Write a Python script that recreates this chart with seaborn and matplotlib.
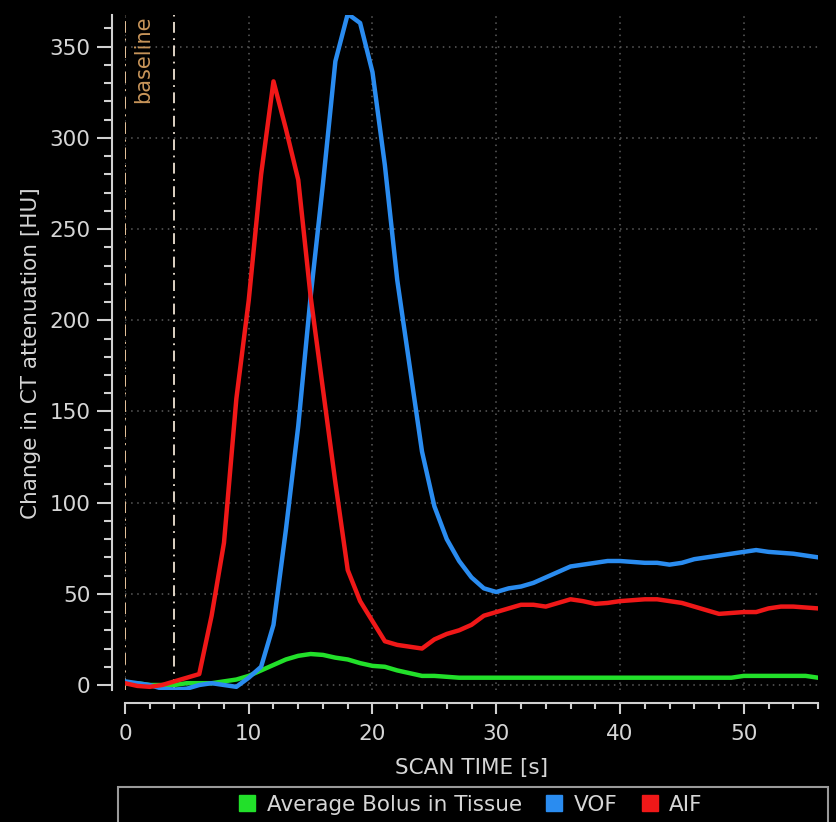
import numpy as np
import pandas as pd
import matplotlib
matplotlib.use("Agg")
import matplotlib.pyplot as plt
import seaborn as sns
from matplotlib.ticker import MultipleLocator
from matplotlib.patches import Rectangle
from matplotlib.lines import Line2D

# ---------------- data ----------------
time_s = list(range(0, 57))

aif = [1, -0.5, -1, 0, 2, 4, 6, 38, 78, 157,
       211, 280, 331, 305, 277, 213, 162, 111, 63, 46,
       35, 24, 22, 21, 20, 25, 28, 30, 33, 38,
       40, 42, 44, 44, 43, 45, 47, 46, 44.5, 45,
       46, 46.5, 47, 47, 46, 45, 43, 41, 39, 39.5,
       40, 40, 42, 43, 43, 42.5, 42]

vof = [2, 1, 0, -2, -2.5, -2, 0, 1, 0, -1,
       4, 10, 33, 85, 142, 213, 275, 342, 368, 363,
       336, 285, 222, 175, 128, 98, 80, 68, 59, 53,
       51, 53, 54, 56, 59, 62, 65, 66, 67, 68,
       68, 67.5, 67, 67, 66, 67, 69, 70, 71, 72,
       73, 74, 73, 72.5, 72, 71, 70]

tissue = [1, 1, 0, 0, 0, 1, 1, 1, 2, 3,
          5, 8, 11, 14, 16, 17, 16.5, 15, 14, 12,
          10.5, 10, 8, 6.5, 5, 5, 4.5, 4, 4, 4,
          4, 4, 4, 4, 4, 4, 4, 4, 4, 4,
          4, 4, 4, 4, 4, 4, 4, 4, 4, 4,
          5, 5, 5, 5, 5, 5, 4]

series_names = ["Average Bolus in Tissue", "VOF", "AIF"]
series_colors = ["#22e02a", "#2a8cf0", "#f01818"]
baseline_start = 0
baseline_end = 4

df = pd.concat([
    pd.DataFrame({"time": time_s, "value": tissue, "series": series_names[0]}),
    pd.DataFrame({"time": time_s, "value": vof, "series": series_names[1]}),
    pd.DataFrame({"time": time_s, "value": aif, "series": series_names[2]}),
], ignore_index=True)

# ---------------- style ----------------
sns.set_style("dark")
plt.rcParams["font.family"] = ["DejaVu Sans"]
txt = "#d6d6d6"
fs = 15.5

fig = plt.figure(figsize=(8.36, 8.22), dpi=100, facecolor="black")
ax = fig.add_axes([0.1495, 0.160, 0.829, 0.822])
ax.set_facecolor("black")

sns.lineplot(data=df, x="time", y="value", hue="series",
             hue_order=series_names, palette=series_colors,
             linewidth=3.2, legend=False, ax=ax, zorder=3)

ax.set_xlim(0, 56)
ax.set_ylim(-3, 367.5)

ax.xaxis.set_major_locator(MultipleLocator(10))
ax.xaxis.set_minor_locator(MultipleLocator(2))
ax.yaxis.set_major_locator(MultipleLocator(50))
ax.yaxis.set_minor_locator(MultipleLocator(10))

ax.grid(True, which="major", color="#5c5c5c", linestyle=(0, (1, 3)), linewidth=1.1)
ax.grid(False, which="minor")

# baseline markers
ax.axvline(baseline_start, color="#e8c49c", linestyle=(0, (6, 3, 1, 3)), linewidth=1.4, zorder=2)
ax.axvline(baseline_end, color="#f0e4d4", linestyle=(0, (6, 3, 1, 3)), linewidth=1.3, zorder=2)
ax.text(1.45, 367, "baseline", rotation=90, va="top", ha="center",
        color="#c8955a", fontsize=15)

sns.despine(ax=ax, offset=9)
for side in ["left", "bottom"]:
    ax.spines[side].set_visible(True)
    ax.spines[side].set_color("#d0d0d0")
    ax.spines[side].set_linewidth(1.5)

ax.tick_params(axis="x", which="major", length=8, width=1.5, color="#d0d0d0",
               labelcolor=txt, labelsize=fs, direction="out", pad=7, bottom=True)
ax.tick_params(axis="x", which="minor", length=4, width=1.5, color="#d0d0d0",
               direction="out", bottom=True)
ax.tick_params(axis="y", which="major", length=11, width=1.5, color="#d0d0d0",
               labelcolor=txt, labelsize=fs, direction="out", pad=5, left=True)
ax.tick_params(axis="y", which="minor", length=6, width=1.5, color="#d0d0d0",
               direction="out", left=True)

ax.set_xlabel("SCAN TIME [s]", color=txt, fontsize=fs, labelpad=10)
ax.set_ylabel("Change in CT attenuation [HU]", color=txt, fontsize=fs, labelpad=6)

# legend box below
fig.patches.append(Rectangle((0.141, -0.1), 0.849, 0.1426, transform=fig.transFigure,
                             facecolor="none", edgecolor="#9a9a9a", linewidth=1.5))
handles = [Line2D([], [], marker="s", linestyle="none", markersize=11,
                  color=c) for c in series_colors]
fig.legend(handles, series_names, loc="center", bbox_to_anchor=(0.563, 0.0207),
           ncol=3, frameon=False, fontsize=fs, handlelength=0.8, handletextpad=0.5,
           columnspacing=1.1, labelcolor=txt)

fig.savefig("out.png", dpi=100, facecolor="black")
